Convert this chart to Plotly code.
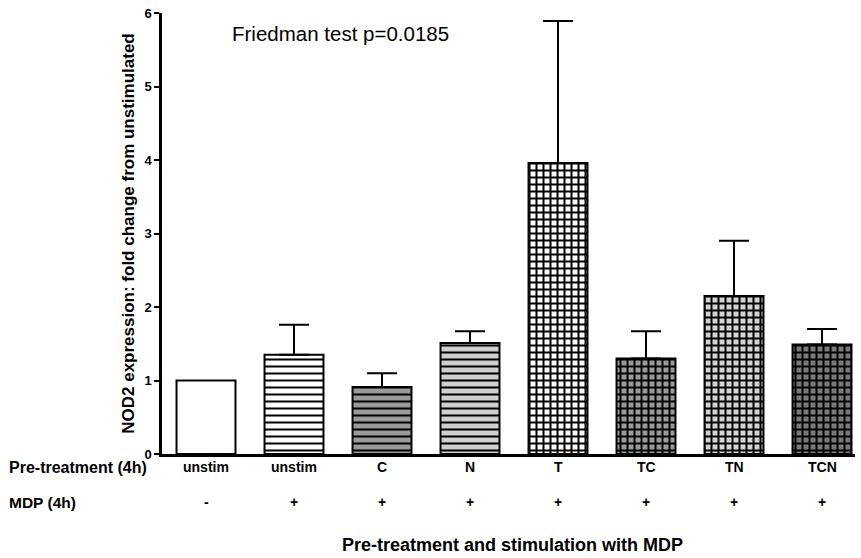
import plotly.graph_objects as go

# Group means and upper SEM, fold change from unstimulated
groups = ["unstim", "unstim", "C", "N", "T", "TC", "TN", "TCN"]
mdp = ["-", "+", "+", "+", "+", "+", "+", "+"]
fold_change = [1.0, 1.35, 0.91, 1.51, 3.96, 1.30, 2.15, 1.49]
sem_upper = [0.0, 0.41, 0.19, 0.16, 1.93, 0.37, 0.75, 0.21]

# Fill patterns per bar
shapes = ["", "-", "-", "-", "+", "+", "+", "+"]
bg = ["#ffffff", "#fefefe", "#9a9a9a", "#cfcfcf", "#fdfdfd", "#9a9a9a", "#d4d4d4", "#7a7a7a"]
solid = {"": 0.0, "-": 0.29, "+": 0.49}

FONT = "Arial, Liberation Sans, Helvetica, sans-serif"

fig = go.Figure()
for i in range(len(groups)):
    pat = dict(shape=shapes[i], fgcolor="black", bgcolor=bg[i], size=7,
               solidity=solid[shapes[i]] or 0.3, fillmode="replace")
    fig.add_trace(go.Bar(
        x=[i],
        y=[fold_change[i]],
        width=0.67,
        marker=dict(color=bg[i], line=dict(color="black", width=2),
                    pattern=pat if shapes[i] else dict(shape="")),
        error_y=dict(type="data", symmetric=False, array=[sem_upper[i]],
                     arrayminus=[0], color="black", thickness=2, width=15,
                     visible=sem_upper[i] > 0),
        showlegend=False,
    ))

annotations = []
for i, (g, m) in enumerate(zip(groups, mdp)):
    annotations.append(dict(x=i, y=0, xref="x", yref="y", text=g, showarrow=False,
                            yanchor="middle", yshift=-13,
                            font=dict(family=FONT, size=14, color="black", weight="bold")))
    annotations.append(dict(x=i, y=0, xref="x", yref="y", text=m, showarrow=False,
                            yanchor="middle", yshift=-48,
                            font=dict(family=FONT, size=14, color="black", weight="bold")))

annotations += [
    dict(x=0, y=0, xref="paper", yref="y", text="Pre-treatment (4h)", showarrow=False,
         xanchor="left", yanchor="middle", xshift=-155, yshift=-13,
         font=dict(family=FONT, size=16, color="black", weight="bold")),
    dict(x=0, y=0, xref="paper", yref="y", text="MDP (4h)", showarrow=False,
         xanchor="left", yanchor="middle", xshift=-155, yshift=-48,
         font=dict(family=FONT, size=15.5, color="black", weight="bold")),
    dict(x=0.506, y=0, xref="paper", yref="y", text="Pre-treatment and stimulation with MDP",
         showarrow=False, xanchor="center", yanchor="middle", yshift=-91,
         font=dict(family=FONT, size=18, color="black", weight="bold")),
    dict(x=0.098, y=5.72, xref="paper", yref="y", text="Friedman test p=0.0185",
         showarrow=False, xanchor="left", yanchor="middle",
         font=dict(family=FONT, size=20.5, color="black")),
]

fig.update_layout(
    width=861, height=558,
    margin=dict(l=162, r=6, t=13, b=104),
    paper_bgcolor="white", plot_bgcolor="white",
    annotations=annotations,
    barmode="overlay",
    xaxis=dict(range=[-0.5, 7.375], showticklabels=False, ticks="",
               showline=True, linecolor="black", linewidth=2.5,
               showgrid=False, zeroline=False, fixedrange=True),
    yaxis=dict(range=[0, 6], tickvals=[0, 1, 2, 3, 4, 5, 6],
               ticks="outside", ticklen=5, tickwidth=2, tickcolor="black",
               showline=True, linecolor="black", linewidth=2.5,
               showgrid=False, zeroline=False,
               tickfont=dict(family=FONT, size=13, color="black", weight="bold"),
               title=dict(text="NOD2 expression: fold change from unstimulated",
                          font=dict(family=FONT, size=17, color="black", weight="bold"),
                          standoff=6)),
)

fig.write_html("out.html")
